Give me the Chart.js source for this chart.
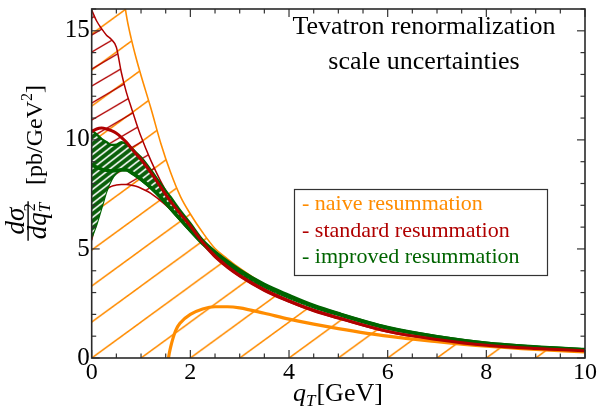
<!DOCTYPE html>
<html><head><meta charset="utf-8">
<script src="https://cdn.jsdelivr.net/npm/chart.js@4"></script>
<style>html,body{margin:0;padding:0;background:#fff}#wrap{width:598px;height:410px}</style>
</head><body><div id="wrap"><canvas id="c" width="598" height="410"></canvas></div>
<script>
// ---- data ----
const qT = [0,0.1,0.2,0.3,0.4,0.5,0.6,0.7,0.8,0.9,1.0,1.2,1.4,1.6,1.8,2.0,2.25,2.5,2.75,3.0,3.5,4.0,4.5,5.0,6.0,7.0,8.0,9.0,10.0];
const stdUpper  = [15.95,15.45,15.1,14.8,14.6,14.25,13.1,12.2,11.5,10.8,10.15,9.05,8.1,7.3,6.7,6.12,5.38,4.75,4.26,3.84,3.17,2.66,2.22,1.88,1.25,0.87,0.6,0.45,0.345];
const stdCenter = [10.38,10.5,10.54,10.5,10.42,10.3,10.12,9.9,9.62,9.35,9.1,8.5,7.83,7.18,6.6,6.05,5.3,4.68,4.2,3.78,3.12,2.61,2.18,1.84,1.22,0.85,0.58,0.43,0.33];
const stdLower  = [5.4,6.4,7.15,7.7,7.87,7.93,7.95,7.95,7.92,7.87,7.78,7.55,7.2,6.8,6.3,5.8,5.2,4.6,4.12,3.72,3.06,2.56,2.13,1.8,1.19,0.82,0.56,0.41,0.315];
const impUpper  = [10.45,10.25,10.05,9.9,9.77,9.78,9.9,9.82,9.65,9.42,9.2,8.62,7.98,7.38,6.75,6.18,5.42,4.9,4.46,4.06,3.4,2.9,2.44,2.07,1.43,1.01,0.71,0.53,0.41];
const impCenter = [8.84,8.75,8.66,8.6,8.58,8.59,8.63,8.63,8.52,8.37,8.2,7.82,7.37,6.86,6.35,5.85,5.3,4.8,4.37,3.97,3.32,2.82,2.38,2.02,1.38,0.98,0.68,0.51,0.39];
const impLower  = [5.54,6.15,6.9,7.65,8.17,8.48,8.6,8.6,8.47,8.32,8.15,7.77,7.32,6.81,6.3,5.8,5.2,4.72,4.3,3.9,3.25,2.75,2.32,1.97,1.34,0.95,0.66,0.49,0.375];
const naiveX     = [0,0.2,0.4,0.5,0.6,0.7,0.8,0.9,1.0,1.2,1.4,1.6,1.8,2.0,2.25,2.5,2.75,3.0,3.5,4.0,4.5,5.0,6.0,7.0,8.0,9.0,10.0];
const naiveUpper = [34,27,21.5,19.4,17.5,15.75,14.65,13.75,12.95,11.45,9.85,8.5,7.4,6.6,5.75,5.02,4.55,4.12,3.38,2.8,2.35,1.99,1.36,0.96,0.67,0.5,0.38];
const naiveCX     = [1.5,1.56,1.6,1.7,1.8,2.0,2.25,2.5,2.75,3.0,3.5,4.0,4.5,5.0,6.0,7.0,8.0,9.0,10.0];
const naiveCenter = [-1.2,0.05,0.5,1.25,1.62,2.0,2.25,2.35,2.35,2.3,2.05,1.78,1.55,1.35,1.0,0.75,0.54,0.39,0.28];

const xMajorTicks = [0,2,4,6,8,10];
const xMinorTicks = [0.5,1,1.5,2.5,3,3.5,4.5,5,5.5,6.5,7,7.5,8.5,9,9.5];
const yMajorTicks = [0,5,10,15];
const yMinorTicks = [1,2,3,4,6,7,8,9,11,12,13,14,16];
const legendLabels = ['- naive resummation','- standard resummation','- improved resummation'];
const titleLines = ['Tevatron renormalization','scale uncertainties'];

const ORANGE = '#ff8c00', RED = '#b00000', GREEN = '#006400';
const SERIF = '"Liberation Serif", "Times New Roman", serif';

const pts = (xs, ys) => xs.map((x, i) => ({x, y: ys[i]}));

// ---- hatch patterns ----
const cctx = document.getElementById('c').getContext('2d');
function hatch(W, V, stroke, lw, bg) {
  const c = document.createElement('canvas'); c.width = W; c.height = V;
  const g = c.getContext('2d');
  if (bg) { g.fillStyle = bg; g.fillRect(0, 0, W, V); }
  g.strokeStyle = stroke; g.lineWidth = lw;
  for (const dy of [-V, 0, V]) {
    g.beginPath(); g.moveTo(-W, 2 * V + dy); g.lineTo(2 * W, -V + dy); g.stroke();
  }
  return cctx.createPattern(c, 'repeat');
}
const OW = 49, OV = 36;
const orangePat = hatch(OW, OV, ORANGE, 1.5);
const redPat = hatch(29, 17, RED, 1.4);
const greenPat = hatch(9, 7, '#ffffff', 1.6, '#0a5f0a');

const base = {pointRadius: 0, pointHoverRadius: 0, cubicInterpolationMode: 'monotone', fill: false};
const datasets = [
  {...base, label: 'naive', data: pts(naiveX, naiveUpper), borderColor: ORANGE, borderWidth: 1.6, backgroundColor: orangePat, fill: 'origin', order: 10},
  {...base, label: 'std up', data: pts(qT, stdUpper), borderColor: RED, borderWidth: 1.5, backgroundColor: redPat, fill: {target: 2}, order: 9},
  {...base, label: 'std low', data: pts(qT, stdLower), borderColor: RED, borderWidth: 1.5, order: 9},
  {...base, label: 'imp up', data: pts(qT, impUpper), borderColor: GREEN, borderWidth: 2.2, backgroundColor: greenPat, fill: {target: 4}, order: 8},
  {...base, label: 'imp low', data: pts(qT, impLower), borderColor: GREEN, borderWidth: 2.2, order: 8},
  {...base, label: 'naive c', data: pts(naiveCX, naiveCenter), borderColor: ORANGE, borderWidth: 3.2, order: 3},
  {...base, label: 'imp c', data: pts(qT, impCenter), borderColor: GREEN, borderWidth: 3.4, order: 2},
  {...base, label: 'std c', data: pts(qT, stdCenter), borderColor: RED, borderWidth: 3.0, order: 1}
];

const decor = {
  id: 'decor',
  beforeDatasetsDraw(chart) {
    const xs = chart.scales.x, ys = chart.scales.y;
    const px0 = xs.getPixelForValue(0), py0 = ys.getPixelForValue(0);
    const ux = xs.getPixelForValue(1) - px0;
    orangePat.setTransform(new DOMMatrix().translate(px0, py0 - OV).scale(ux / OW, 1));
    redPat.setTransform(new DOMMatrix().translate(px0, py0));
    greenPat.setTransform(new DOMMatrix().translate(px0, py0));
  },
  afterDraw(chart) {
    const ctx = chart.ctx, a = chart.chartArea;
    const xs = chart.scales.x, ys = chart.scales.y;
    ctx.save();
    // ticks
    ctx.strokeStyle = '#333'; ctx.lineWidth = 1.2;
    const tick = (x1, y1, x2, y2) => { ctx.beginPath(); ctx.moveTo(x1, y1); ctx.lineTo(x2, y2); ctx.stroke(); };
    const xT = (v, L) => { const p = xs.getPixelForValue(v); tick(p, a.bottom, p, a.bottom - L); tick(p, a.top, p, a.top + L); };
    const yT = (v, L) => { const p = ys.getPixelForValue(v); tick(a.left, p, a.left + L, p); tick(a.right, p, a.right - L, p); };
    xMajorTicks.forEach(v => xT(v, 8)); xMinorTicks.forEach(v => xT(v, 4.5));
    yMajorTicks.forEach(v => yT(v, 8)); yMinorTicks.forEach(v => yT(v, 4.5));
    // frame
    ctx.lineWidth = 1.6; ctx.strokeStyle = '#2a2a2a';
    ctx.strokeRect(a.left, a.top, a.right - a.left, a.bottom - a.top);
    // title
    ctx.fillStyle = '#000'; ctx.textAlign = 'center'; ctx.textBaseline = 'alphabetic';
    ctx.font = '26px ' + SERIF;
    ctx.fillText(titleLines[0], 424, 34);
    ctx.fillText(titleLines[1], 424, 69);
    // legend
    ctx.lineWidth = 1.2; ctx.strokeStyle = '#333';
    ctx.strokeRect(294.5, 189.5, 253, 86);
    ctx.textAlign = 'left'; ctx.font = '22px ' + SERIF;
    const lc = [ORANGE, RED, GREEN], lb = [210, 236.5, 263];
    legendLabels.forEach((t, i) => { ctx.fillStyle = lc[i]; ctx.fillText(t, 302, lb[i]); });
    // x axis title
    ctx.fillStyle = '#000';
    let x = 293; const by = 401;
    ctx.font = 'italic 26px ' + SERIF; ctx.fillText('q', x, by); x += ctx.measureText('q').width;
    ctx.font = 'italic 17px ' + SERIF; ctx.fillText('T', x, by + 5); x += ctx.measureText('T').width + 1;
    ctx.font = '26px ' + SERIF; ctx.fillText('[GeV]', x, by);
    // y axis title (rotated)
    ctx.rotate(-Math.PI / 2);
    const yc = 135, bl = 42;
    ctx.font = '24px ' + SERIF;
    const w1 = ctx.measureText('[pb/GeV').width;
    ctx.font = '16px ' + SERIF; const w2 = ctx.measureText('2').width;
    ctx.font = '24px ' + SERIF; const w3 = ctx.measureText(']').width;
    let u = -yc - (w1 + w2 + w3) / 2;
    ctx.fillText('[pb/GeV', u, bl); u += w1;
    ctx.font = '16px ' + SERIF; ctx.fillText('2', u, bl - 10); u += w2;
    ctx.font = '24px ' + SERIF; ctx.fillText(']', u, bl);
    // fraction d sigma / d q_T^2
    const fc = 221;
    ctx.font = 'italic 27px ' + SERIF;
    const nw = ctx.measureText('dσ').width;
    ctx.fillText('dσ', -fc - nw / 2, 24);
    const dw1 = ctx.measureText('dq').width;
    ctx.font = 'italic 17px ' + SERIF; const dw2 = ctx.measureText('T').width;
    const dtot = dw1 + dw2;
    let v = -fc - dtot / 2;
    ctx.font = 'italic 27px ' + SERIF; ctx.fillText('dq', v, 46); v += dw1;
    ctx.font = 'italic 17px ' + SERIF; ctx.fillText('T', v, 50);
    ctx.font = '16px ' + SERIF; ctx.fillText('2', v + 1, 35);
    const bw = Math.max(nw, dtot) + 3;
    ctx.fillRect(-fc - bw / 2, 27.4, bw, 1.4);
    ctx.restore();
  }
};

new Chart(document.getElementById('c'), {
  type: 'line',
  data: {datasets},
  options: {
    responsive: false, animation: false, devicePixelRatio: 1,
    layout: {padding: {top: 3, right: 13, left: 0, bottom: 0}},
    plugins: {legend: {display: false}, tooltip: {enabled: false}},
    events: [],
    scales: {
      x: {type: 'linear', min: 0, max: 10,
          ticks: {stepSize: 2, color: '#000', padding: -8, font: {family: SERIF, size: 24}, maxRotation: 0},
          grid: {display: false}, border: {display: false},
          afterFit(s) { s.height = 52; }},
      y: {type: 'linear', min: 0, max: 16,
          ticks: {stepSize: 5, includeBounds: false, color: '#000', padding: -6, font: {family: SERIF, size: 25}},
          grid: {display: false}, border: {display: false},
          afterFit(s) { s.width = 91.7; }}
    }
  },
  plugins: [decor]
});
</script></body></html>
